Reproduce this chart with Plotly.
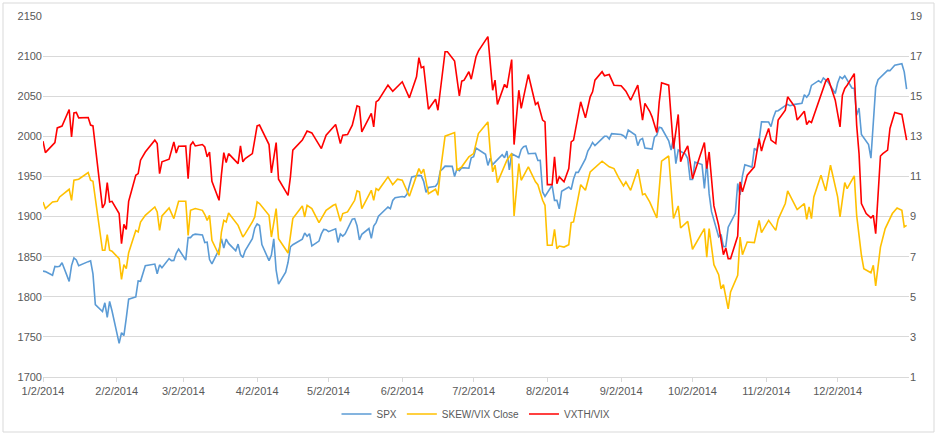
import pandas as pd
import plotly.graph_objects as go

# ---------------- data ----------------
holidays = ["2014-01-01", "2014-01-20", "2014-02-17", "2014-04-18", "2014-05-26",
            "2014-07-04", "2014-09-01", "2014-11-27", "2014-12-25"]
spx_dates = [d for d in pd.bdate_range("2014-01-02", "2014-12-31")
             if d.strftime("%Y-%m-%d") not in holidays]

spx_values = [
    1831.98, 1831.37, 1826.77, 1837.88, 1837.49, 1838.13, 1842.37, 1819.20, 1838.88, 1848.38, 1845.89,
    1838.70, 1843.80, 1844.86, 1828.46, 1790.29, 1781.56, 1792.50, 1774.20, 1794.19, 1782.59,
    1741.89, 1755.20, 1751.64, 1773.43, 1797.02, 1799.84, 1819.75, 1819.26, 1829.83, 1838.63,
    1840.76, 1828.75, 1839.78, 1836.25, 1847.61, 1845.12, 1845.16, 1854.29, 1859.45,
    1845.73, 1873.91, 1873.81, 1877.03, 1878.04, 1877.17, 1867.63, 1868.20, 1846.34, 1841.13, 1858.83,
    1872.25, 1860.77, 1872.01, 1866.52, 1857.44, 1865.62, 1852.56, 1849.04, 1857.62, 1872.34,
    1885.52, 1890.90, 1888.77, 1865.09, 1845.04, 1851.96, 1872.18, 1833.08, 1815.69, 1830.61, 1842.98,
    1862.31, 1864.85, 1871.89, 1879.55, 1875.39, 1878.61, 1863.40, 1869.43, 1878.33, 1883.95,
    1883.68, 1881.14, 1884.66, 1867.72, 1878.21, 1875.63, 1878.48, 1896.65, 1897.45, 1888.53, 1870.85,
    1877.86, 1885.08, 1872.83, 1888.03, 1892.49, 1900.53, 1911.91, 1909.78, 1920.03, 1923.57,
    1924.97, 1924.24, 1927.88, 1940.46, 1949.44, 1951.27, 1950.79, 1943.89, 1930.11, 1936.16, 1937.78,
    1941.99, 1956.98, 1959.48, 1962.87, 1962.61, 1949.98, 1959.53, 1957.22, 1960.96, 1960.23,
    1973.32, 1974.62, 1985.44, 1977.65, 1963.71, 1972.83, 1964.68, 1967.57, 1977.10, 1973.28, 1981.57,
    1958.12, 1978.22, 1973.63, 1983.53, 1987.01, 1987.98, 1978.34, 1978.91, 1969.95, 1970.07, 1930.67,
    1925.15, 1938.99, 1920.21, 1920.24, 1909.57, 1931.59, 1936.92, 1933.75, 1946.72, 1955.18, 1955.06,
    1971.74, 1981.60, 1986.51, 1992.37, 1988.40, 1997.92, 2000.02, 2000.12, 1996.74, 2003.37,
    2002.28, 2000.72, 1997.65, 2007.71, 2001.54, 1988.44, 1995.69, 1997.45, 1985.54, 1984.13, 1998.98,
    2001.57, 2011.36, 2010.40, 1994.29, 1982.77, 1998.30, 1965.99, 1982.85, 1977.80, 1972.29,
    1946.16, 1946.17, 1967.90, 1964.82, 1935.10, 1968.89, 1928.21, 1906.13, 1874.74, 1877.70, 1862.49,
    1862.76, 1886.76, 1904.01, 1941.28, 1927.11, 1950.82, 1964.58, 1961.63, 1985.05, 1982.30, 1994.65, 2018.05,
    2017.81, 2012.10, 2023.57, 2031.21, 2031.92, 2038.26, 2039.68, 2038.25, 2039.33, 2039.82,
    2041.32, 2051.80, 2048.72, 2052.75, 2063.50, 2069.41, 2067.03, 2072.83, 2067.56,
    2053.44, 2066.55, 2074.33, 2071.92, 2075.37, 2060.31, 2059.82, 2026.14, 2035.33, 2002.33, 1989.63,
    1972.74, 2012.89, 2061.23, 2070.65, 2078.54, 2082.17, 2081.88, 2088.77, 2090.57, 2080.35, 2058.90,
]

skew_dates = [
    "2014-01-02", "2014-01-03", "2014-01-06", "2014-01-08", "2014-01-09", "2014-01-13", "2014-01-14",
    "2014-01-15", "2014-01-17", "2014-01-21", "2014-01-22", "2014-01-23", "2014-01-27", "2014-01-28",
    "2014-01-29", "2014-01-30", "2014-01-31", "2014-02-03", "2014-02-04", "2014-02-05", "2014-02-06",
    "2014-02-07", "2014-02-10", "2014-02-11", "2014-02-12", "2014-02-14", "2014-02-18", "2014-02-19",
    "2014-02-20", "2014-02-21", "2014-02-24", "2014-02-26", "2014-02-28", "2014-03-03", "2014-03-04",
    "2014-03-05", "2014-03-07", "2014-03-10", "2014-03-11", "2014-03-12", "2014-03-13", "2014-03-14",
    "2014-03-17", "2014-03-18", "2014-03-19", "2014-03-20", "2014-03-21", "2014-03-25", "2014-03-27",
    "2014-03-28", "2014-03-31", "2014-04-01", "2014-04-02", "2014-04-03", "2014-04-07", "2014-04-08",
    "2014-04-10", "2014-04-11", "2014-04-15", "2014-04-16", "2014-04-17", "2014-04-21", "2014-04-22",
    "2014-04-23", "2014-04-25", "2014-04-28", "2014-05-01", "2014-05-04", "2014-05-05", "2014-05-07",
    "2014-05-08", "2014-05-10", "2014-05-13", "2014-05-14", "2014-05-15", "2014-05-16", "2014-05-20",
    "2014-05-21", "2014-05-22", "2014-05-23", "2014-05-27", "2014-05-29", "2014-05-31", "2014-06-02",
    "2014-06-04", "2014-06-05", "2014-06-09", "2014-06-10", "2014-06-11", "2014-06-13", "2014-06-16",
    "2014-06-17", "2014-06-18", "2014-06-20", "2014-06-24", "2014-06-25", "2014-06-27", "2014-06-30",
    "2014-07-02", "2014-07-04", "2014-07-08", "2014-07-09", "2014-07-10", "2014-07-11", "2014-07-12",
    "2014-07-16", "2014-07-18", "2014-07-19", "2014-07-21", "2014-07-22", "2014-07-25", "2014-07-28",
    "2014-07-29", "2014-07-31", "2014-08-01", "2014-08-02", "2014-08-04", "2014-08-05", "2014-08-06",
    "2014-08-07", "2014-08-09", "2014-08-11", "2014-08-12", "2014-08-13", "2014-08-16", "2014-08-18",
    "2014-08-20", "2014-08-25", "2014-08-28", "2014-08-30", "2014-09-01", "2014-09-03", "2014-09-04",
    "2014-09-06", "2014-09-09", "2014-09-11", "2014-09-12", "2014-09-14", "2014-09-17", "2014-09-19",
    "2014-09-22", "2014-09-24", "2014-09-26", "2014-09-27", "2014-09-30", "2014-10-02", "2014-10-07",
    "2014-10-08", "2014-10-09", "2014-10-11", "2014-10-13", "2014-10-14", "2014-10-15", "2014-10-17",
    "2014-10-18", "2014-10-21", "2014-10-22", "2014-10-23", "2014-10-25", "2014-10-28", "2014-10-30",
    "2014-10-31", "2014-11-03", "2014-11-06", "2014-11-07", "2014-11-10", "2014-11-11", "2014-11-13",
    "2014-11-15", "2014-11-18", "2014-11-19", "2014-11-20", "2014-11-21", "2014-11-22", "2014-11-25",
    "2014-11-27", "2014-11-29", "2014-12-02", "2014-12-03", "2014-12-05", "2014-12-06", "2014-12-09",
    "2014-12-10", "2014-12-12", "2014-12-13", "2014-12-16", "2014-12-17", "2014-12-18", "2014-12-20",
    "2014-12-22", "2014-12-25", "2014-12-27", "2014-12-29", "2014-12-30", "2014-12-31",
]
skew_values = [
    9.73, 9.40, 9.73, 9.76, 9.98, 10.36, 9.81,
    10.81, 10.86, 11.19, 10.81, 10.76, 7.32, 7.32,
    8.10, 7.32, 7.27, 6.90, 5.87, 6.60, 6.40,
    7.20, 8.31, 8.23, 8.73, 9.06, 9.48, 9.23,
    8.31, 9.03, 9.43, 8.90, 9.76, 9.76, 8.06,
    9.31, 9.40, 9.31, 9.10, 8.81, 9.06, 7.82,
    7.07, 8.23, 8.81, 8.73, 9.18, 8.56, 7.98,
    8.15, 8.73, 8.98, 9.73, 9.65, 9.06, 7.98,
    9.40, 7.90, 7.18, 8.15, 8.90, 9.53, 8.98,
    9.56, 9.40, 8.70, 9.31, 9.56, 9.61, 8.76,
    9.15, 9.23, 9.81, 10.28, 10.23, 9.40, 10.31,
    9.81, 10.39, 10.31, 10.98, 10.59, 10.86, 10.81,
    10.31, 10.01, 11.39, 11.14, 11.36, 10.14, 10.36,
    10.06, 11.23, 13.01, 13.19, 11.31, 11.48, 11.98,
    12.14, 13.14, 13.72, 12.22, 11.23, 11.56, 10.69,
    11.81, 12.14, 9.03, 11.64, 10.81, 11.48, 10.73,
    10.59, 9.81, 9.56, 7.57, 7.57, 8.36, 7.40,
    7.53, 7.48, 7.60, 8.70, 8.73, 10.59, 10.31,
    11.23, 11.76, 11.48, 11.39, 10.93, 10.53, 10.73,
    10.31, 11.36, 10.09, 10.14, 9.73, 8.93, 11.76,
    12.02, 8.90, 9.53, 8.43, 8.76, 7.37, 8.40,
    6.98, 8.40, 6.60, 6.10, 5.40, 5.60, 4.40,
    5.24, 6.07, 7.98, 7.10, 7.73, 7.70, 8.81,
    8.20, 8.81, 8.31, 8.86, 9.65, 10.28, 9.81,
    9.35, 9.65, 8.86, 9.48, 8.90, 9.98, 11.06,
    10.28, 11.56, 9.98, 8.98, 10.69, 10.39, 11.03,
    9.06, 7.07, 6.40, 6.20, 6.57, 5.54, 7.48,
    8.40, 9.15, 9.43, 9.31, 8.48, 8.56,
]

vxth_dates = [
    "2014-01-02", "2014-01-03", "2014-01-07", "2014-01-08", "2014-01-10", "2014-01-13", "2014-01-14",
    "2014-01-15", "2014-01-16", "2014-01-17", "2014-01-21", "2014-01-22", "2014-01-23", "2014-01-27",
    "2014-01-28", "2014-01-29", "2014-01-30", "2014-01-31", "2014-02-03", "2014-02-04", "2014-02-05",
    "2014-02-06", "2014-02-07", "2014-02-10", "2014-02-11", "2014-02-12", "2014-02-14", "2014-02-18",
    "2014-02-19", "2014-02-20", "2014-02-21", "2014-02-24", "2014-02-26", "2014-02-27", "2014-02-28",
    "2014-03-03", "2014-03-04", "2014-03-05", "2014-03-06", "2014-03-07", "2014-03-10", "2014-03-11",
    "2014-03-12", "2014-03-13", "2014-03-14", "2014-03-17", "2014-03-18", "2014-03-19", "2014-03-20",
    "2014-03-21", "2014-03-25", "2014-03-26", "2014-03-27", "2014-03-28", "2014-03-31", "2014-04-02",
    "2014-04-03", "2014-04-07", "2014-04-08", "2014-04-10", "2014-04-11", "2014-04-15", "2014-04-16",
    "2014-04-17", "2014-04-21", "2014-04-23", "2014-04-25", "2014-04-29", "2014-05-01", "2014-05-04",
    "2014-05-05", "2014-05-07", "2014-05-08", "2014-05-10", "2014-05-12", "2014-05-14", "2014-05-15",
    "2014-05-16", "2014-05-20", "2014-05-21", "2014-05-22", "2014-05-23", "2014-05-27", "2014-05-29",
    "2014-05-31", "2014-06-02", "2014-06-05", "2014-06-08", "2014-06-09", "2014-06-10", "2014-06-11",
    "2014-06-13", "2014-06-16", "2014-06-17", "2014-06-20", "2014-06-21", "2014-06-24", "2014-06-26",
    "2014-06-27", "2014-06-28", "2014-06-30", "2014-07-01", "2014-07-03", "2014-07-04", "2014-07-08",
    "2014-07-09", "2014-07-10", "2014-07-11", "2014-07-12", "2014-07-15", "2014-07-16", "2014-07-18",
    "2014-07-19", "2014-07-21", "2014-07-22", "2014-07-25", "2014-07-28", "2014-07-29", "2014-07-31",
    "2014-08-01", "2014-08-02", "2014-08-04", "2014-08-05", "2014-08-06", "2014-08-07", "2014-08-09",
    "2014-08-11", "2014-08-12", "2014-08-13", "2014-08-16", "2014-08-18", "2014-08-20", "2014-08-21",
    "2014-08-22", "2014-08-25", "2014-08-26", "2014-08-28", "2014-08-30", "2014-09-02", "2014-09-04",
    "2014-09-06", "2014-09-09", "2014-09-11", "2014-09-12", "2014-09-14", "2014-09-15", "2014-09-17",
    "2014-09-18", "2014-09-19", "2014-09-22", "2014-09-23", "2014-09-24", "2014-09-26", "2014-09-27",
    "2014-09-28", "2014-09-30", "2014-10-02", "2014-10-07", "2014-10-08", "2014-10-09", "2014-10-11",
    "2014-10-13", "2014-10-15", "2014-10-16", "2014-10-17", "2014-10-18", "2014-10-21", "2014-10-22",
    "2014-10-23", "2014-10-25", "2014-10-28", "2014-10-30", "2014-10-31", "2014-11-01", "2014-11-03",
    "2014-11-04", "2014-11-06", "2014-11-07", "2014-11-10", "2014-11-11", "2014-11-13", "2014-11-14",
    "2014-11-15", "2014-11-18", "2014-11-19", "2014-11-20", "2014-11-21", "2014-11-24", "2014-11-27",
    "2014-11-28", "2014-12-01", "2014-12-03", "2014-12-04", "2014-12-05", "2014-12-06", "2014-12-09",
    "2014-12-10", "2014-12-11", "2014-12-12", "2014-12-14", "2014-12-16", "2014-12-17", "2014-12-18",
    "2014-12-20", "2014-12-21", "2014-12-23", "2014-12-24", "2014-12-26", "2014-12-28", "2014-12-29",
    "2014-12-31",
]
vxth_values = [
    12.76, 12.19, 12.69, 13.42, 13.51, 14.34, 12.97,
    14.17, 14.19, 13.92, 13.94, 13.56, 13.52, 9.43,
    9.65, 10.69, 9.73, 9.76, 9.15, 7.65, 8.61,
    8.36, 9.76, 11.06, 11.14, 11.81, 12.22, 12.81,
    12.64, 11.14, 11.73, 11.86, 12.72, 12.17, 12.51,
    12.52, 10.89, 12.56, 12.72, 12.52, 12.59, 12.47,
    11.98, 12.22, 10.76, 9.81, 11.09, 12.19, 11.69,
    12.14, 11.64, 12.52, 11.73, 11.89, 12.14, 13.52,
    13.56, 12.59, 11.18, 12.69, 10.86, 10.06, 10.98,
    12.31, 12.81, 13.26, 13.17, 12.39, 13.06, 13.47,
    13.59, 12.64, 13.06, 13.09, 13.56, 14.52, 14.47,
    13.22, 14.14, 13.47, 14.72, 14.80, 15.55, 15.25,
    15.47, 15.72, 14.92, 15.97, 16.92, 16.42, 16.47,
    14.35, 14.85, 14.30, 17.22, 17.22, 16.75, 15.02,
    15.75, 15.80, 16.22, 15.85, 16.97, 17.25, 17.97,
    16.47, 15.30, 15.80, 14.59, 15.59, 15.42, 16.83,
    12.59, 15.30, 14.39, 16.08, 14.59, 14.69, 13.81,
    13.72, 10.59, 10.59, 11.98, 10.64, 10.98, 10.73,
    11.39, 12.72, 12.81, 14.72, 13.92, 14.97, 15.22,
    15.80, 16.22, 16.02, 16.08, 15.55, 15.52, 15.25,
    14.80, 15.55, 13.81, 14.64, 14.25, 13.97, 13.19,
    14.69, 15.67, 15.55, 13.81, 12.39, 14.09, 11.73,
    12.06, 12.52, 10.89, 12.69, 11.39, 12.22, 9.53,
    8.56, 7.10, 7.43, 6.90, 6.90, 8.03, 10.73,
    10.23, 11.06, 11.48, 12.89, 12.26, 12.72, 13.39,
    12.81, 12.64, 13.81, 14.30, 14.97, 14.64, 14.47,
    13.81, 14.25, 13.59, 13.76, 13.69, 14.72, 15.75,
    15.89, 14.80, 13.47, 15.05, 15.39, 15.55, 16.13,
    13.56, 12.14, 9.65, 9.15, 8.93, 9.06, 8.15,
    12.02, 12.14, 12.31, 13.39, 14.19, 14.14, 14.09,
    12.81,
]

x_tick_dates = ["2014-01-02", "2014-02-02", "2014-03-02", "2014-04-02", "2014-05-02", "2014-06-02",
                "2014-07-02", "2014-08-02", "2014-09-02", "2014-10-02", "2014-11-02", "2014-12-02"]
x_range = ["2014-01-02", "2015-01-01"]
left_range = [1700, 2150]
right_range = [1, 19]

# ---------------- style ----------------
W, H = 941, 436
ML, MR, MT, MB = 43, 32, 16, 59
PW, PH = W - ML - MR, H - MT - MB
FONT = "Liberation Sans Narrow, Liberation Sans, Arial, sans-serif"
TXT = "#595959"
GRID = "#D9D9D9"


def px_x(p):
    return (p - ML) / PW


def px_y(p):
    return (H - MB - p) / PH


fig = go.Figure()
fig.add_trace(go.Scatter(x=spx_dates, y=spx_values, name="SPX", mode="lines",
                         line=dict(color="#5B9BD5", width=1.6)))
fig.add_trace(go.Scatter(x=pd.to_datetime(skew_dates), y=skew_values, name="SKEW/VIX Close",
                         mode="lines", yaxis="y2", line=dict(color="#FFC000", width=1.6)))
fig.add_trace(go.Scatter(x=pd.to_datetime(vxth_dates), y=vxth_values, name="VXTH/VIX",
                         mode="lines", yaxis="y2", line=dict(color="#FF0000", width=1.6)))

fig.update_layout(
    width=W, height=H,
    margin=dict(l=ML, r=MR, t=MT, b=MB, autoexpand=False),
    paper_bgcolor="white", plot_bgcolor="white",
    font=dict(family=FONT, size=11, color=TXT),
    showlegend=True,
    legend=dict(orientation="h", x=0.5, xanchor="center", y=px_y(414), yanchor="middle",
                font=dict(family=FONT, size=10, color=TXT), bgcolor="rgba(0,0,0,0)",
                itemwidth=30, tracegroupgap=0),
    xaxis=dict(type="date", range=x_range, tickvals=x_tick_dates, tickformat="%-m/%-d/%Y",
               showgrid=False, zeroline=False, showline=True, linecolor=GRID, linewidth=1,
               ticks="outside", ticklen=4, tickcolor=GRID,
               tickfont=dict(family=FONT, size=11, color=TXT)),
    yaxis=dict(range=left_range, dtick=50, tick0=1700, showgrid=True, gridcolor=GRID, gridwidth=1,
               zeroline=False, showline=False, ticks="",
               tickfont=dict(family=FONT, size=11, color=TXT)),
    yaxis2=dict(range=right_range, dtick=2, tick0=1, overlaying="y", side="right",
                showgrid=False, zeroline=False, showline=False, ticks="",
                tickfont=dict(family=FONT, size=11, color=TXT)),
    shapes=[dict(type="rect", xref="paper", yref="paper",
                 x0=px_x(3), x1=px_x(934), y0=px_y(432), y1=px_y(3),
                 line=dict(color=GRID, width=1), fillcolor="rgba(0,0,0,0)", layer="below")],
)

fig.write_html("out.html")
